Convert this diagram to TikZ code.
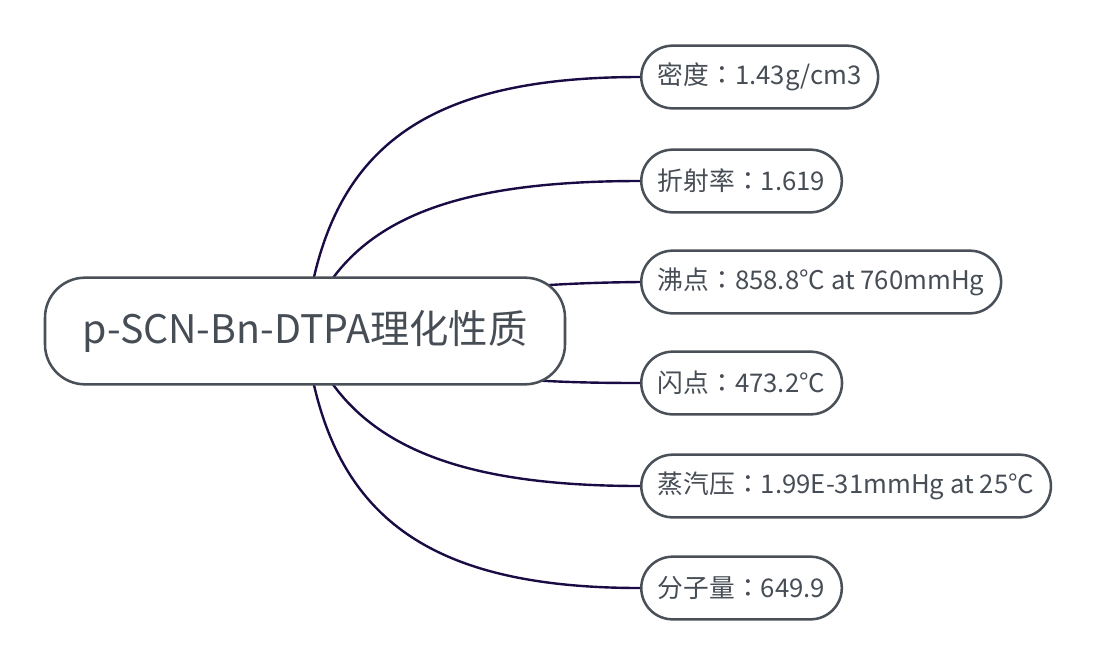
\documentclass[tikz,border=0pt]{standalone}
\usepackage{fontspec}
\setmainfont{Noto Sans CJK SC}
\newfontfamily\tcfont{Noto Sans CJK TC}
\newcommand{\sep}{{\tcfont ：}}
\definecolor{boxline}{HTML}{4A5058}
\definecolor{boxtext}{HTML}{474D55}
\definecolor{link}{HTML}{1A0B45}
\tikzset{
    topic/.style={draw=boxline,line width=1.9pt,fill=white,text=boxtext,
        rounded corners=30pt,minimum width=390pt,minimum height=80pt,
        font=\fontsize{29.5}{36}\selectfont},
    leaf/.style={draw=boxline,line width=1.9pt,fill=white,text=boxtext,anchor=west,
        rounded corners=23.5pt,minimum height=47pt,inner xsep=12.5pt,
        font=\fontsize{19.3}{23}\selectfont},
    branch/.style={draw=link,line width=1.8pt}
}
\begin{document}
\begin{tikzpicture}[x=0.75pt,y=-0.75pt]
    \useasboundingbox (0,0) rectangle (1106,665);
    \coordinate (hub) at (305,331);
    \node[leaf] (density) at (640,77) {密度\sep 1.43g/cm3};
    \node[leaf] (refr) at (640,181) {折射率\sep 1.619};
    \node[leaf] (boil) at (640,282) {沸点\sep 858.8°C at 760mmHg};
    \node[leaf] (flash) at (640,383) {闪点\sep 473.2°C};
    \node[leaf] (vapor) at (640,486) {蒸汽压\sep 1.99E-31mmHg at 25°C};
    \node[leaf] (mass) at (640,588) {分子量\sep 649.9};
    \draw[branch] (hub) .. controls (325,151) and (420,77) .. (density.west);
    \draw[branch] (hub) .. controls (345,220) and (450,181) .. (refr.west);
    \draw[branch] (hub) .. controls (420,290) and (540,283) .. (boil.west);
    \draw[branch] (hub) .. controls (420,378) and (530,383) .. (flash.west);
    \draw[branch] (hub) .. controls (345,442) and (450,486) .. (vapor.west);
    \draw[branch] (hub) .. controls (325,511) and (420,588) .. (mass.west);
    \node[topic] (root) at (hub) {p-SCN-Bn-DTPA理化性质};
\end{tikzpicture}
\end{document}
